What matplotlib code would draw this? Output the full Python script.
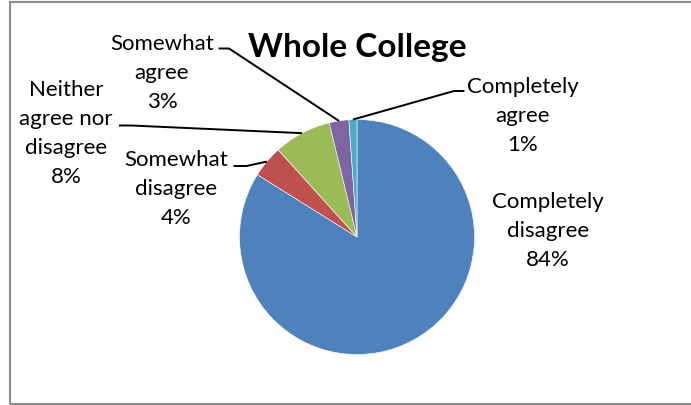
import numpy as np
import matplotlib
matplotlib.use("Agg")
import matplotlib.pyplot as plt
from matplotlib.patches import Rectangle

# ---- data ----
categories = ["Completely disagree", "Somewhat disagree", "Neither agree nor disagree",
              "Somewhat agree", "Completely agree"]
values = [83.9, 4.4, 7.9, 2.7, 1.1]
pct_labels = ["84%", "4%", "8%", "3%", "1%"]
label_lines = [["Completely", "disagree", "84%"],
               ["Somewhat", "disagree", "4%"],
               ["Neither", "agree nor", "disagree", "8%"],
               ["Somewhat", "agree", "3%"],
               ["Completely", "agree", "1%"]]
colors = ["#4F81BD", "#C0504D", "#9BBB59", "#8064A2", "#4BACC6"]
title = "Whole College"

W, H = 691, 406
fig = plt.figure(figsize=(W / 100, H / 100), dpi=100)
FONT = "Lato"

def fx(px):
    return px / W

def fy(py):
    return 1 - py / H

# border (right edge runs off the picture)
fig.patches.append(Rectangle((fx(10), fy(404.5)), fx(700) - fx(10), fy(3) - fy(404.5),
                             transform=fig.transFigure, fill=False,
                             edgecolor="#8C8C8C", linewidth=1.5))

# pie axes
cx, cy, r = 357, 238, 117.5
ax = fig.add_axes([fx(cx - r), fy(cy + r), 2 * r / W, 2 * r / H])
wedges, _ = ax.pie(values, colors=colors, startangle=90, counterclock=False,
                   radius=1, wedgeprops=dict(linewidth=0.4, edgecolor="white"))
ax.set_xlim(-1, 1)
ax.set_ylim(-1, 1)
ax.set_aspect("equal")
ax.axis("off")

# overlay axes in pixel coordinates for labels and leaders
ov = fig.add_axes([0, 0, 1, 1], zorder=5)
ov.set_xlim(0, W)
ov.set_ylim(H, 0)
ov.axis("off")
ov.patch.set_alpha(0)

to_px = lambda pt: (fig.dpi_scale_trans + ov.transData.inverted())

def wedge_anchor(w):
    ang = np.deg2rad((w.theta1 + w.theta2) / 2)
    disp = ax.transData.transform((np.cos(ang), np.sin(ang)))
    return ov.transData.inverted().transform(disp)

# label layout: center x, first line y, line spacing, leader path (label side)
layout = {
    0: dict(x=548, y=202, leader=None),
    1: dict(x=176, y=160, leader=[(233.5, 167), (246.5, 167)]),
    2: dict(x=66, y=90, leader=[(119, 126.5), (131, 126.5)]),
    3: dict(x=162, y=44, leader=[(218.5, 49.5), (229, 49.5)]),
    4: dict(x=523, y=87, leader=[(464.5, 92), (454, 92)]),
}
spacing = 29
fs = 16

for i, w in enumerate(wedges):
    lay = layout[i]
    for k, line in enumerate(label_lines[i]):
        ov.text(lay["x"], lay["y"] + k * spacing, line, ha="center", va="center",
                fontsize=fs, family=FONT, color="#000000")
    if lay["leader"] is not None:
        ax_pt = wedge_anchor(w)
        pts = lay["leader"] + [tuple(ax_pt)]
        xs, ys = zip(*pts)
        ov.plot(xs, ys, color="black", linewidth=1.4, solid_capstyle="butt")

ov.text(357.5, 47, title, ha="center", va="center", fontsize=24,
        fontweight="bold", family=FONT, color="#000000")

fig.savefig("out.png", dpi=100)
